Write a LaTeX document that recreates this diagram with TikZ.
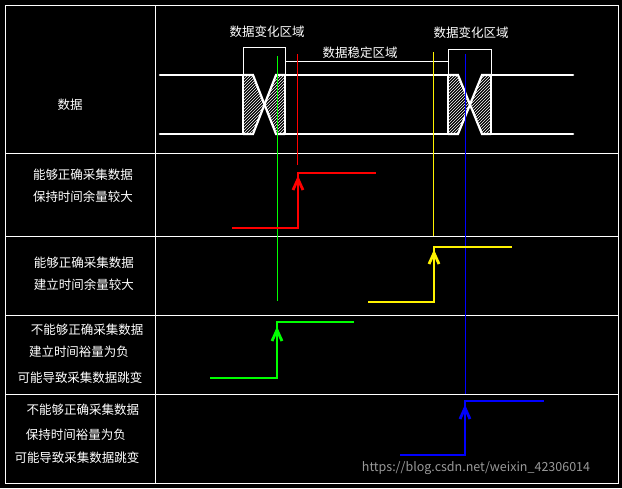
\documentclass[tikz,border=0pt]{standalone}
\usepackage{fontspec}
\setmainfont{Noto Sans CJK SC}
\usetikzlibrary{patterns}

\tikzset{
  grid/.style={draw=white, line width=0.8pt},
  bus/.style={draw=white, line width=2.6pt},
  probe/.style={line width=0.8pt},
  clkedge/.style={line width=2.8pt},
  lbl/.style={text=white, font=\fontsize{12.5}{14}\selectfont, inner sep=0pt},
}
\newcommand{\chev}[3]{\draw[#3, clkedge] (#1-5,#2+11) -- (#1,#2) -- (#1+5,#2+11);}

\begin{document}
\begin{tikzpicture}[x=1pt, y=-1pt]

% Background
\fill[black] (0,0) rectangle (622,488);
\useasboundingbox (0,0) rectangle (622,488);

% Table
\draw[grid] (5,5) rectangle (618,483);
\draw[grid] (155,5) -- (155,483);
\foreach \y in {153,236,315,394}
  \draw[grid] (5,\y) -- (618,\y);

% Data bus
\draw[bus, line cap=round] (160,75) -- (243,75);
\draw[bus, line cap=round] (160,134) -- (243,134);
\draw[bus] (285,75) -- (448,75);
\draw[bus] (285,134) -- (448,134);
\draw[bus, line cap=round] (491,75) -- (573,75);
\draw[bus, line cap=round] (491,134) -- (573,134);

% Change regions
\foreach \a/\b in {243/285, 448/491}{
  \pgfmathsetmacro{\m}{(\a+\b)/2}
  \pattern[pattern=north east lines, pattern color=white]
    (\a,75) -- (\a+10,75) -- (\m,105) -- (\a+10,134) -- (\a,134) -- cycle;
  \pattern[pattern=north east lines, pattern color=white]
    (\b,75) -- (\b-9,75) -- (\m,105) -- (\b-9,134) -- (\b,134) -- cycle;
  \draw[bus] (\a,74) -- (\a,135);
  \draw[bus] (\b,74) -- (\b,135);
  \draw[white, line width=2.2pt] (\a,75) -- (\a+10,75) -- (\b-9,134) -- (\b,134);
  \draw[white, line width=2.2pt] (\a,134) -- (\a+10,134) -- (\b-9,75) -- (\b,75);
}

% Brackets
\draw[white, line width=0.8pt] (243,75) -- (243,47) -- (285,47) -- (285,75);
\draw[white, line width=0.8pt] (448,75) -- (448,49) -- (491,49) -- (491,75);
\draw[white, line width=0.8pt] (285,61) -- (448,61);
\node[lbl] (chg1) at (267,32) {数据变化区域};
\node[lbl] (chg2) at (471,33) {数据变化区域};
\node[lbl] (stable) at (360,53) {数据稳定区域};

% Sampling marks
\draw[probe, green] (277,56) -- (277,301);
\draw[probe, red] (297,54) -- (297,165);
\draw[probe, yellow] (433,52) -- (433,236);
\draw[probe, blue] (465,54) -- (465,394);

% Clock edges
\draw[red, clkedge] (232,228) -- (298,228) -- (298,173) -- (376,173);
\chev{298}{179}{red}
\draw[yellow, clkedge] (368,302) -- (434,302) -- (434,247) -- (512,247);
\chev{434}{253}{yellow}
\draw[green, clkedge] (210,378) -- (277,378) -- (277,322) -- (354,322);
\chev{277}{330}{green}
\draw[blue, clkedge] (400,455) -- (465,455) -- (465,401) -- (544,401);
\chev{465}{408}{blue}

% Row labels
\node[lbl] (data) at (70,105) {数据};
\node[lbl] (r1a) at (83,175) {能够正确采集数据};
\node[lbl] (r1b) at (83,197) {保持时间余量较大};
\node[lbl] (r2a) at (84,263) {能够正确采集数据};
\node[lbl] (r2b) at (84,285) {建立时间余量较大};
\node[lbl] (r3a) at (87,330) {不能够正确采集数据};
\node[lbl] (r3b) at (79,352) {建立时间裕量为负};
\node[lbl] (r3c) at (80,378) {可能导致采集数据跳变};
\node[lbl] (r4a) at (83,410) {不能够正确采集数据};
\node[lbl] (r4b) at (76,435) {保持时间裕量为负};
\node[lbl] (r4c) at (77,458) {可能导致采集数据跳变};

% Watermark
\node[lbl, text=gray!80] (wm) at (476,468) {https://blog.csdn.net/weixin\_42306014};

\end{tikzpicture}
\end{document}
